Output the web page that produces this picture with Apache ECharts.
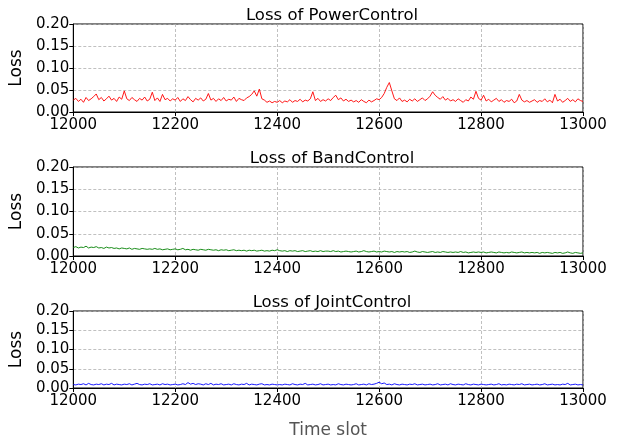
<!DOCTYPE html>
<html><head><meta charset="utf-8">
<script src="https://cdn.jsdelivr.net/npm/echarts@6/dist/echarts.min.js"></script>
<style>html,body{margin:0;padding:0;background:#fff}#c{width:618px;height:440px}</style>
</head><body><div id="c"></div>
<script>
const titles = ['Loss of PowerControl','Loss of BandControl','Loss of JointControl'];
const xStart = 12000, xStep = 5;
const xTicks = [12000,12200,12400,12600,12800,13000];
const yTicks = [0.00,0.05,0.10,0.15,0.20];
const powerLoss = [
0.027,0.031,0.024,0.029,0.022,0.033,0.026,0.030,0.035,0.041,
0.028,0.033,0.025,0.030,0.036,0.027,0.031,0.024,0.034,0.029,
0.048,0.030,0.026,0.033,0.028,0.024,0.031,0.027,0.034,0.025,
0.029,0.045,0.026,0.032,0.024,0.040,0.028,0.031,0.025,0.030,
0.027,0.033,0.024,0.030,0.026,0.035,0.028,0.023,0.031,0.027,
0.032,0.025,0.029,0.042,0.027,0.031,0.024,0.030,0.026,0.033,
0.025,0.029,0.027,0.034,0.024,0.031,0.028,0.026,0.032,0.035,
0.040,0.048,0.036,0.052,0.030,0.027,0.022,0.025,0.021,0.024,
0.022,0.026,0.021,0.025,0.023,0.028,0.022,0.026,0.024,0.029,
0.023,0.027,0.025,0.030,0.046,0.026,0.031,0.024,0.028,0.025,
0.030,0.026,0.033,0.038,0.028,0.032,0.025,0.029,0.024,0.027,
0.023,0.026,0.022,0.028,0.024,0.021,0.027,0.023,0.026,0.030,
0.028,0.033,0.042,0.056,0.067,0.048,0.030,0.026,0.032,0.024,
0.027,0.023,0.029,0.025,0.030,0.024,0.028,0.032,0.026,0.030,
0.036,0.046,0.038,0.033,0.029,0.035,0.027,0.031,0.025,0.028,
0.024,0.030,0.026,0.022,0.028,0.025,0.034,0.029,0.047,0.031,
0.027,0.038,0.025,0.029,0.023,0.027,0.031,0.024,0.028,0.022,
0.026,0.024,0.029,0.021,0.025,0.040,0.027,0.023,0.026,0.022,
0.025,0.028,0.022,0.026,0.024,0.030,0.023,0.027,0.021,0.040,
0.025,0.029,0.022,0.026,0.031,0.024,0.028,0.023,0.030,0.026,
0.024];
const bandLoss = [
0.019,0.021,0.018,0.020,0.019,0.022,0.018,0.020,0.019,0.021,
0.018,0.019,0.017,0.020,0.018,0.019,0.017,0.018,0.016,0.018,
0.017,0.016,0.018,0.015,0.017,0.016,0.015,0.017,0.016,0.015,
0.016,0.015,0.017,0.015,0.016,0.014,0.015,0.016,0.014,0.015,
0.016,0.014,0.015,0.017,0.014,0.015,0.013,0.015,0.014,0.013,
0.015,0.014,0.013,0.015,0.014,0.013,0.014,0.012,0.014,0.013,
0.014,0.012,0.013,0.014,0.012,0.013,0.012,0.013,0.011,0.013,
0.012,0.013,0.011,0.012,0.013,0.011,0.012,0.011,0.013,0.012,
0.014,0.012,0.011,0.012,0.010,0.012,0.011,0.012,0.010,0.011,
0.012,0.010,0.011,0.012,0.010,0.011,0.010,0.012,0.010,0.011,
0.011,0.010,0.012,0.010,0.011,0.009,0.010,0.011,0.010,0.009,
0.010,0.011,0.009,0.010,0.012,0.010,0.009,0.010,0.011,0.009,
0.010,0.009,0.011,0.010,0.009,0.010,0.008,0.010,0.009,0.010,
0.009,0.010,0.008,0.009,0.011,0.009,0.008,0.010,0.009,0.008,
0.009,0.010,0.008,0.009,0.008,0.010,0.009,0.008,0.009,0.008,
0.009,0.008,0.010,0.008,0.009,0.007,0.008,0.009,0.008,0.009,
0.008,0.009,0.007,0.008,0.009,0.008,0.007,0.009,0.008,0.007,
0.008,0.007,0.009,0.008,0.007,0.008,0.009,0.007,0.008,0.007,
0.008,0.007,0.008,0.006,0.008,0.007,0.008,0.007,0.006,0.008,
0.007,0.008,0.006,0.007,0.009,0.007,0.006,0.008,0.007,0.006,
0.007];
const jointLoss = [
0.009,0.008,0.010,0.009,0.011,0.008,0.012,0.009,0.008,0.010,
0.009,0.011,0.008,0.010,0.009,0.012,0.008,0.010,0.009,0.008,
0.010,0.009,0.011,0.008,0.010,0.012,0.009,0.008,0.010,0.009,
0.011,0.008,0.009,0.010,0.008,0.011,0.009,0.010,0.008,0.009,
0.010,0.008,0.009,0.011,0.009,0.014,0.010,0.012,0.009,0.011,
0.010,0.008,0.011,0.009,0.012,0.008,0.010,0.009,0.011,0.008,
0.009,0.010,0.008,0.011,0.009,0.008,0.010,0.009,0.012,0.008,
0.010,0.009,0.008,0.010,0.011,0.008,0.009,0.008,0.010,0.009,
0.008,0.009,0.008,0.010,0.009,0.008,0.011,0.009,0.008,0.010,
0.009,0.012,0.008,0.009,0.010,0.008,0.009,0.011,0.008,0.009,
0.010,0.008,0.009,0.008,0.011,0.009,0.008,0.010,0.009,0.008,
0.009,0.011,0.008,0.009,0.010,0.008,0.011,0.009,0.010,0.012,
0.015,0.011,0.013,0.009,0.010,0.008,0.011,0.009,0.008,0.010,
0.009,0.008,0.010,0.009,0.011,0.008,0.009,0.010,0.008,0.009,
0.010,0.008,0.009,0.011,0.008,0.009,0.010,0.008,0.011,0.009,
0.008,0.010,0.009,0.008,0.011,0.009,0.008,0.010,0.009,0.008,
0.010,0.009,0.008,0.009,0.010,0.008,0.009,0.011,0.008,0.009,
0.008,0.010,0.009,0.008,0.010,0.009,0.011,0.008,0.009,0.010,
0.008,0.009,0.010,0.008,0.009,0.011,0.008,0.009,0.010,0.008,
0.009,0.008,0.010,0.009,0.012,0.008,0.009,0.010,0.008,0.009,
0.008];
const seriesData = [powerLoss, bandLoss, jointLoss];
const colors = ['#ff0000','#008000','#0000ff'];

const FONT = 'DejaVu Sans';
const tops = [24, 167, 311];
const heights = [88, 89, 88];
const chart = echarts.init(document.getElementById('c'), null, {renderer:'canvas'});
const grid = [], xAxis = [], yAxis = [], series = [], title = [];
for (let k = 0; k < 3; k++) {
  grid.push({left:71, right:35, top:tops[k], height:heights[k], show:true, borderColor:'#000', borderWidth:1, backgroundColor:'transparent'});
  title.push({text:titles[k], left:327, textAlign:'center', top:tops[k]-22,
    textStyle:{fontFamily:FONT, fontSize:16.5, fontWeight:'normal', color:'#000'}});
  xAxis.push({type:'value', gridIndex:k, min:xTicks[0], max:xTicks[xTicks.length-1], interval:200,
    axisLine:{show:true, onZero:false, lineStyle:{color:'#000', width:1}},
    axisTick:{show:true, inside:false, length:4, lineStyle:{color:'#000'}},
    axisLabel:{fontFamily:FONT, fontSize:15, color:'#000', margin:6, formatter:v=>String(v)},
    splitLine:{show:true, lineStyle:{type:[3,2], color:'#b0b0b0', width:0.8}},
    name: k===2 ? 'Time slot' : '', nameLocation:'middle', nameGap:34,
    nameTextStyle:{fontFamily:FONT, fontSize:17, color:'#555'}});
  yAxis.push({type:'value', gridIndex:k, min:0, max:0.2, interval:0.05,
    axisLine:{show:true, lineStyle:{color:'#000', width:1}},
    axisTick:{show:true, inside:false, length:4, lineStyle:{color:'#000'}},
    axisLabel:{fontFamily:FONT, fontSize:15, color:'#000', margin:4, formatter:v=>v.toFixed(2)},
    splitLine:{show:true, lineStyle:{type:[3,2], color:'#b0b0b0', width:0.8}},
    name:'Loss', nameLocation:'middle', nameGap:44, nameRotate:90,
    nameTextStyle:{fontFamily:FONT, fontSize:17, color:'#000'}});
  series.push({type:'line', xAxisIndex:k, yAxisIndex:k, showSymbol:false, animation:false,
    data: seriesData[k].map((v,i)=>[xStart + i*xStep, v]),
    lineStyle:{color:colors[k], width:0.9}, itemStyle:{color:colors[k]}});
}
chart.setOption({backgroundColor:'#fff', animation:false, title, grid, xAxis, yAxis, series});
</script></body></html>
